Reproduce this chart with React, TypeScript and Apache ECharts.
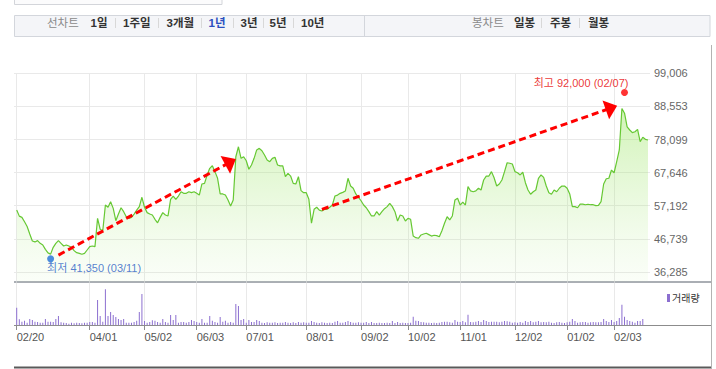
import React, { useEffect, useRef } from 'react';
import * as echarts from 'echarts';

// ---- data -------------------------------------------------------------
const firstDay = '2024-02-20';
const lastDay = '2025-02-20';
const holidays = [
  '2024-03-01', '2024-04-10', '2024-05-01', '2024-05-06', '2024-05-15', '2024-06-06',
  '2024-08-15', '2024-09-16', '2024-09-17', '2024-09-18', '2024-10-01', '2024-10-03',
  '2024-10-09', '2024-12-25', '2024-12-31', '2025-01-01', '2025-01-27', '2025-01-28',
  '2025-01-29', '2025-01-30',
];

// daily closing prices (KRW)
const closes = [
  55800, 53900, 53500, 52100, 50600, 48250, 46050, 45750, 46150, 45300,
  44800, 43400, 42300, 41900, 44050, 45300, 46150, 45300, 44450, 44800,
  44450, 44050, 43000, 42350, 42150, 41850, 42150, 43200, 44250, 44450,
  44250, 53200, 49750, 49300, 57400, 56700, 58450, 56350, 52450, 54550,
  56550, 55300, 53700, 53200, 53500, 54550, 55800, 56900, 59850, 56700,
  55000, 54550, 54250, 52900, 51800, 53500, 55000, 54250, 53950, 59200,
  60250, 59200, 60250, 61600, 61100, 61100, 61600, 61300, 61600, 61100,
  60550, 64050, 64250, 66900, 69000, 69800, 67950, 65850, 60900, 60900,
  60550, 59000, 57100, 59000, 72650, 75800, 72150, 72650, 71400, 68700,
  70050, 72150, 74800, 75300, 74550, 73200, 71600, 71100, 72150, 72500,
  70050, 69750, 69750, 66350, 67400, 66550, 64250, 64050, 66350, 61950,
  61300, 61300, 59200, 51650, 56050, 56700, 55800, 55500, 56050, 56050,
  56700, 57400, 60250, 60550, 61100, 61400, 61850, 65850, 63400, 62700,
  60900, 59850, 58750, 57400, 56550, 55300, 53950, 53950, 55300, 54250,
  55300, 56250, 56900, 57950, 56900, 55300, 52350, 54250, 53950, 52350,
  53200, 52900, 47600, 47100, 46900, 47950, 48250, 48500, 48050, 47600,
  47850, 47750, 47400, 49300, 51650, 53700, 52700, 53950, 59000, 59550,
  57400, 58350, 57400, 63200, 61850, 61600, 61850, 62700, 62150, 65300,
  66550, 66550, 67950, 66000, 63400, 64050, 65300, 67950, 70750, 70600,
  70350, 67950, 67600, 66900, 67750, 64450, 62150, 60800, 61600, 62150,
  65850, 66900, 66150, 63400, 61300, 60800, 62150, 61600, 62700, 63400,
  63400, 62700, 60900, 56900, 56900, 56550, 57700, 57700, 57500, 57650,
  57500, 57500, 57200, 57300, 58450, 64050, 65700, 65850, 68450, 67600,
  71100, 74800, 87900, 86400, 82100, 81100, 80250, 80550, 81300, 77400,
  78800, 78150, 77950,
];

// daily volume (10,000 shares)
const volumes = [
  52, 17, 10, 13, 7, 18, 15, 10, 9, 7,
  7, 18, 10, 10, 9, 18, 27, 8, 7, 6,
  4, 7, 5, 7, 6, 5, 7, 7, 9, 9,
  7, 75, 27, 10, 108, 27, 39, 30, 24, 18,
  15, 18, 7, 7, 7, 9, 13, 39, 93, 12,
  7, 9, 14, 13, 9, 7, 18, 9, 7, 30,
  15, 30, 7, 9, 9, 7, 9, 15, 12, 9,
  7, 18, 7, 7, 27, 13, 9, 7, 24, 10,
  13, 7, 9, 7, 63, 57, 15, 18, 7, 15,
  9, 9, 15, 12, 7, 6, 8, 7, 7, 8,
  6, 7, 7, 9, 7, 6, 8, 6, 9, 7,
  8, 7, 7, 12, 9, 7, 6, 8, 7, 6,
  7, 6, 10, 12, 7, 7, 9, 12, 9, 7,
  7, 8, 7, 7, 9, 6, 9, 6, 6, 7,
  6, 6, 7, 6, 12, 6, 9, 6, 7, 6,
  6, 7, 25, 13, 12, 9, 8, 7, 7, 6,
  7, 6, 7, 9, 10, 10, 8, 7, 15, 10,
  9, 12, 8, 31, 9, 8, 10, 12, 9, 15,
  12, 9, 10, 10, 10, 8, 10, 12, 11, 10,
  7, 8, 7, 9, 7, 12, 9, 12, 8, 10,
  12, 8, 9, 8, 10, 7, 6, 8, 9, 7,
  6, 8, 10, 18, 12, 7, 8, 9, 9, 7,
  8, 9, 8, 8, 9, 18, 12, 9, 15, 9,
  12, 21, 61, 25, 15, 12, 10, 7, 12, 12,
  18, 0, 0,
];

const xLabelDates = [
  '2024-02-20', '2024-04-01', '2024-05-02', '2024-06-03', '2024-07-01', '2024-08-01',
  '2024-09-02', '2024-10-02', '2024-11-01', '2024-12-02', '2025-01-02', '2025-02-03',
];
const yTickLabels = ['36,285', '46,739', '57,192', '67,646', '78,099', '88,553', '99,006'];
const priceAxisMin = 33250;
const priceAxisMax = 99006;
const volumeAxisMax = 128;

const lowPoint = { date: '2024-03-11', value: 41350 };
const highPoint = { date: '2025-02-07', value: 92000 };
const trendArrows = [
  { from: { date: '2024-03-14', value: 41600 }, to: { date: '2024-06-21', value: 71000 } },
  { from: { date: '2024-08-09', value: 56050 }, to: { date: '2025-01-31', value: 88100 } },
];

const periodTabs = ['1일', '1주일', '3개월', '1년', '3년', '5년', '10년'];
const activePeriod = '1년';
const candleTabs = ['일봉', '주봉', '월봉'];
const volumeName = '거래량';

// ---- helpers ----------------------------------------------------------
function tradingDays(): string[] {
  const out: string[] = [];
  const d = new Date(firstDay + 'T00:00:00Z');
  const end = new Date(lastDay + 'T00:00:00Z').getTime();
  while (d.getTime() <= end) {
    const wd = d.getUTCDay();
    const iso = d.toISOString().slice(0, 10);
    if (wd !== 0 && wd !== 6 && !holidays.includes(iso)) out.push(iso);
    d.setUTCDate(d.getUTCDate() + 1);
  }
  return out;
}
const mmdd = (iso: string) => iso.slice(5).replace('-', '/');
const fmt = (n: number) => n.toLocaleString('en-US');

const FONT = "'Liberation Sans', 'Noto Sans CJK KR', sans-serif";

function buildGraphics() {
  const g: any[] = [];
  g.push({ type: 'rect', shape: { x: 14.5, y: -1, width: 207.5, height: 5.5 }, style: { fill: '#fbfbfc', stroke: '#d3d5da', lineWidth: 1 } });
  g.push({ type: 'rect', shape: { x: 14.5, y: 15.5, width: 695.5, height: 21 }, style: { fill: '#f4f5f8', stroke: '#d3d6dc', lineWidth: 1 } });
  g.push({ type: 'line', shape: { x1: 364.5, y1: 16, x2: 364.5, y2: 36 }, style: { stroke: '#d3d6dc', lineWidth: 1 } });
  const ty = 23;
  const txt = (text: string, x: number, color: string, bold: boolean) => ({
    type: 'text', x, y: ty,
    style: { text, fill: color, fontSize: 11.5, fontWeight: bold ? 'bold' : 'normal', fontFamily: FONT, align: 'left', verticalAlign: 'middle' },
  });
  const sep = (x: number) => ({ type: 'line', shape: { x1: x, y1: 18, x2: x, y2: 28 }, style: { stroke: '#d8d8d8', lineWidth: 1 } });
  g.push(txt('선차트', 47, '#8a8a8a', false));
  const px = [90.5, 123, 166.5, 208.5, 240.5, 269.5, 301];
  const sx = [115.5, 158.5, 201.5, 233.5, 263.5, 293.5];
  periodTabs.forEach((t, i) => g.push(txt(t, px[i], t === activePeriod ? '#2b50c0' : '#333', true)));
  sx.forEach((x) => g.push(sep(x)));
  g.push(txt('봉차트', 472, '#8a8a8a', false));
  const cx = [514, 550, 588];
  candleTabs.forEach((t, i) => g.push(txt(t, cx[i], '#333', true)));
  [541.5, 579.5].forEach((x) => g.push(sep(x)));
  // frame lines
  g.push({ type: 'line', shape: { x1: 711.5, y1: 45, x2: 711.5, y2: 369 }, style: { stroke: '#b3b3b3', lineWidth: 1 } });
  g.push({ type: 'line', shape: { x1: 14, y1: 282, x2: 711, y2: 282 }, style: { stroke: '#8e939b', lineWidth: 1.5 } });
  g.push({ type: 'line', shape: { x1: 14, y1: 325.5, x2: 711, y2: 325.5 }, style: { stroke: '#8c8c8c', lineWidth: 1 } });
  g.push({ type: 'line', shape: { x1: 14, y1: 367.5, x2: 711, y2: 367.5 }, style: { stroke: '#5a5a5a', lineWidth: 2 } });
  return g;
}

export default function App() {
  const ref = useRef<HTMLDivElement>(null);
  useEffect(() => {
    if (!ref.current) return;
    const chart = echarts.init(ref.current, undefined, { renderer: 'svg' });
    const dates = tradingDays();
    const isLabel = (_i: number, v: string) => xLabelDates.includes(v);

    const option: any = {
      animation: false,
      textStyle: { fontFamily: FONT },
      grid: [
        { left: 16.7, right: 68, top: 73.3, height: 208.2 },
        { left: 14, right: 66, top: 73.3, height: 198.6 },
        { left: 16.7, right: 68, top: 282.5, height: 42.5 },
      ],
      legend: {
        data: [volumeName], left: 662, top: 288, itemWidth: 3, itemHeight: 8, icon: 'rect',
        textStyle: { fontSize: 10, color: '#333', padding: [0, 0, 0, -3], fontFamily: FONT },
        selectedMode: false,
      },
      xAxis: [
        {
          type: 'category', gridIndex: 0, data: dates, boundaryGap: false,
          axisLine: { show: false }, axisTick: { show: false }, axisLabel: { show: false },
          splitLine: { show: true, interval: isLabel, lineStyle: { color: '#e9e9e9', width: 1 } },
        },
        { type: 'value', gridIndex: 1, min: 0, max: 1, show: false },
        {
          type: 'category', gridIndex: 2, data: dates, boundaryGap: false,
          axisLine: { show: false },
          axisTick: { show: true, interval: isLabel, length: 5, lineStyle: { color: '#8c8c8c' } },
          axisLabel: { interval: isLabel, formatter: (v: string) => mmdd(v), align: 'left', fontSize: 11, color: '#555', margin: 6, fontFamily: FONT },
          splitLine: { show: true, interval: isLabel, lineStyle: { color: '#e9e9e9' } },
        },
      ],
      yAxis: [
        { type: 'value', gridIndex: 0, min: priceAxisMin, max: priceAxisMax, show: false },
        {
          type: 'value', gridIndex: 1, min: 0, max: 6, interval: 1, position: 'right',
          axisLine: { show: false }, axisTick: { show: false },
          splitLine: { show: true, lineStyle: { color: '#e9e9e9' } },
          axisLabel: { formatter: (v: number) => yTickLabels[Math.round(v)] ?? '', color: '#666', fontSize: 11, margin: 4, fontFamily: FONT },
        },
        { type: 'value', gridIndex: 2, min: 0, max: volumeAxisMax, show: false },
      ],
      series: [
        {
          type: 'line', name: '종가', xAxisIndex: 0, yAxisIndex: 0, data: closes,
          symbol: 'none', showSymbol: false, silent: true,
          lineStyle: { color: '#66c833', width: 1.2 },
          areaStyle: {
            color: new echarts.graphic.LinearGradient(0, 0, 0, 1, [
              { offset: 0, color: 'rgba(150,228,90,0.62)' },
              { offset: 0.6, color: 'rgba(170,232,125,0.30)' },
              { offset: 1, color: 'rgba(200,242,170,0.12)' },
            ]),
          },
          markLine: {
            silent: true, symbol: ['none', 'triangle'],
            label: { show: false },
            lineStyle: { color: '#ff0000', width: 3, type: [7, 4] },
            emphasis: { disabled: true },
            data: trendArrows.map((a) => [
              { coord: [a.from.date, a.from.value], symbol: 'none' },
              { coord: [a.to.date, a.to.value], symbol: 'triangle', symbolSize: [20, 12] },
            ]),
          },
          z: 3,
        },
        {
          type: 'scatter', xAxisIndex: 0, yAxisIndex: 0, symbolSize: 7, silent: true, z: 5,
          data: [
            {
              value: [lowPoint.date, lowPoint.value], symbolOffset: [0, 3],
              itemStyle: { color: '#1f6fd6' },
              label: {
                show: true, position: 'bottom', distance: 0, align: 'left', offset: [-3.5, 0],
                formatter: `최저 ${fmt(lowPoint.value)} (${mmdd(lowPoint.date)})`,
                color: '#2a5fc4', fontSize: 11, fontFamily: FONT,
              },
            },
            {
              value: [highPoint.date, highPoint.value], symbolOffset: [0, -3],
              itemStyle: { color: '#ff0000' },
              label: {
                show: true, position: 'top', distance: 0, align: 'right', offset: [4, 0],
                formatter: `최고 ${fmt(highPoint.value)} (${mmdd(highPoint.date)})`,
                color: '#e60000', fontSize: 11, fontFamily: FONT,
              },
            },
          ],
        },
        {
          type: 'bar', name: volumeName, xAxisIndex: 2, yAxisIndex: 2, data: volumes,
          barWidth: 1, clip: false, silent: true,
          itemStyle: { color: '#8c6fd0' },
        },
      ],
      graphic: buildGraphics(),
    };
    chart.setOption(option);
    return () => chart.dispose();
  }, []);
  return <div ref={ref} style={{ position: 'fixed', left: 0, top: 0, width: 716, height: 369, background: '#fff' }} />;
}
